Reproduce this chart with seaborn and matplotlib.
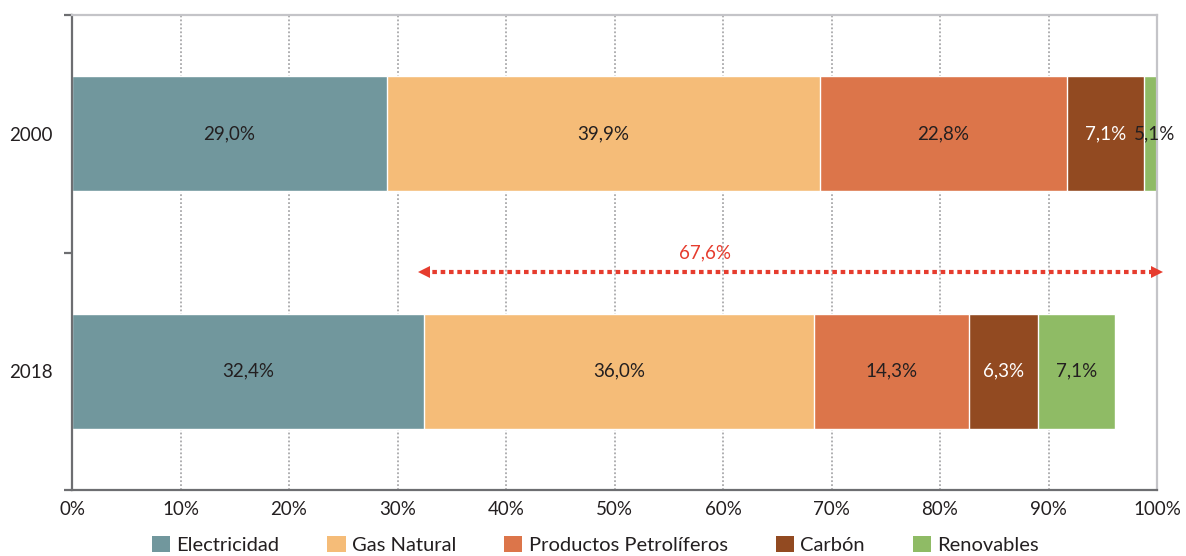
import matplotlib
matplotlib.use("Agg")
import matplotlib.pyplot as plt
import seaborn as sns
import pandas as pd
from matplotlib.patches import Patch

# Data: energy mix of final consumption (%)
years = ["2000", "2018"]
categories = ["Electricidad", "Gas Natural", "Productos Petrolíferos", "Carbón", "Renovables"]
electricidad = [29.0, 32.4]
gas_natural = [39.9, 36.0]
productos_petroliferos = [22.8, 14.3]
carbon = [7.1, 6.3]
renovables = [5.1, 7.1]

colors = ["#71979d", "#f5bc78", "#dc754a", "#924a21", "#8fbb65"]
label_colors = ["#231f20", "#231f20", "#231f20", "#ffffff", "#231f20"]

sns.set_theme(style="white")
plt.rcParams["font.family"] = ["Lato", "DejaVu Sans"]

series = [electricidad, gas_natural, productos_petroliferos, carbon, renovables]
rows = []
for yi, year in enumerate(years):
    start = 0.0
    for ci, cat in enumerate(categories):
        v = series[ci][yi]
        rows.append({"año": year, "fuente": cat, "valor": v,
                     "inicio": start, "fin": start + v})
        start += v
df = pd.DataFrame(rows)

fig = plt.figure(figsize=(11.86, 5.56), dpi=100)
ax = fig.add_axes([72 / 1186, 1 - 490 / 556, (1157 - 72) / 1186, 475 / 556])

# Stacked bars: draw cumulative totals from the last segment backwards
for ci in reversed(range(len(categories))):
    seg = df[df["fuente"] == categories[ci]]
    sns.barplot(data=seg, x="fin", y="año", order=years, orient="h",
                color=colors[ci], saturation=1, width=0.485, ax=ax)

dark = "#231f20"
for _, r in df.iterrows():
    ci = categories.index(r["fuente"])
    yi = years.index(r["año"])
    # keep labels of segments running past 100 % near the axis edge
    cx = min((r["inicio"] + r["fin"]) / 2, 99.8)
    ax.text(cx, yi, f"{r['valor']:.1f}%".replace(".", ","), ha="center",
            va="center", fontsize=13.5, color=label_colors[ci])

# Arrow: share of non-electric consumption in 2018
share = 100 - electricidad[1]
red = "#e63c2e"
ya = 0.58
ax.plot([electricidad[1], 100], [ya, ya], color=red, lw=3.0,
        linestyle=(0, (1.1, 0.9)), dash_capstyle="butt", clip_on=False, zorder=5)
ax.plot([electricidad[1]], [ya], marker="<", ms=9, color=red, mew=0,
        clip_on=False, zorder=6)
ax.plot([100], [ya], marker=">", ms=9, color=red, mew=0, clip_on=False, zorder=6)
ax.text(58.3, 0.50, f"{share:.1f}%".replace(".", ","), color=red,
        fontsize=13.5, ha="center", va="center")

ax.set_xlim(0, 100)
ax.set_ylim(1.5, -0.5)
ax.set_xticks(range(0, 101, 10))
ax.set_xticklabels([f"{t}%" for t in range(0, 101, 10)])
ax.set_yticks([0, 1])
ax.set_yticklabels(years)
ax.set_yticks([-0.5, 0.5, 1.5], minor=True)
ax.set_xlabel("")
ax.set_ylabel("")

ax.set_axisbelow(True)
ax.grid(axis="x", color="#a9a9ab", lw=1.3, linestyle=(0, (1, 1.2)))
ax.grid(axis="y", visible=False)

ax.tick_params(axis="x", length=0, pad=8, labelsize=13.5, labelcolor=dark)
ax.tick_params(axis="y", which="major", length=0, pad=14, labelsize=13.5,
               labelcolor=dark)
ax.tick_params(axis="y", which="minor", length=6, width=1.6, color="#6d6e71",
               left=True)

for side in ["left", "bottom"]:
    ax.spines[side].set_color("#6d6e71")
    ax.spines[side].set_linewidth(1.6)
for side in ["top", "right"]:
    ax.spines[side].set_color("#c4c4c8")
    ax.spines[side].set_linewidth(1.6)

handles = [Patch(facecolor=c, edgecolor="none") for c in colors]
fig.legend(handles, categories, loc="center", bbox_to_anchor=(0.502, 0.02),
           ncol=5, frameon=False, fontsize=14.5, handlelength=0.9,
           handleheight=0.9, handletextpad=0.3, columnspacing=2.4,
           labelcolor=dark)

fig.savefig("out.png", dpi=100)
